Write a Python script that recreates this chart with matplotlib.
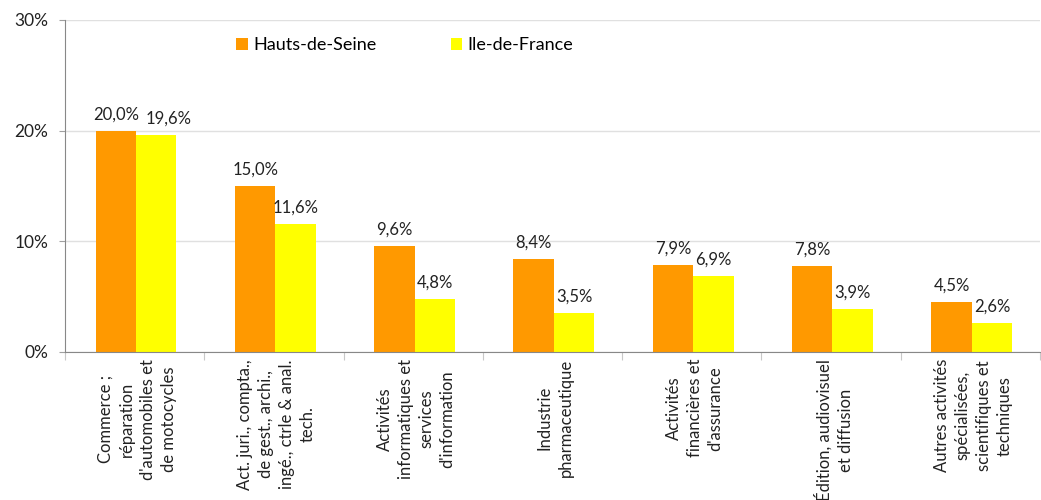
import matplotlib
matplotlib.use("Agg")
import matplotlib.pyplot as plt
import numpy as np
from matplotlib.ticker import FixedLocator, NullFormatter, FuncFormatter

plt.rcParams['font.family'] = ['Lato', 'DejaVu Sans']

categories = [
    "Commerce ;\nréparation\nd'automobiles et\nde motocycles",
    "Act. juri., compta.,\nde gest., archi.,\ningé., ctrle & anal.\ntech.",
    "Activités\ninformatiques et\nservices\nd'information",
    "Industrie\npharmaceutique",
    "Activités\nfinancières et\nd'assurance",
    "Édition, audiovisuel\net diffusion",
    "Autres activités\nspécialisées,\nscientifiques et\ntechniques",
]
hauts_de_seine = [20.0, 15.0, 9.6, 8.4, 7.9, 7.8, 4.5]
ile_de_france = [19.6, 11.6, 4.8, 3.5, 6.9, 3.9, 2.6]
series_names = ["Hauts-de-Seine", "Ile-de-France"]
colors = ["#FF9900", "#FFFF00"]

fig = plt.figure(figsize=(10.41, 5.0), dpi=100)
ax = fig.add_axes([65/1041, 1-352/500, (1040-65)/1041, (352-20)/500])

x = np.arange(len(categories))
w = 0.29
b1 = ax.bar(x - w/2 + 0.01, hauts_de_seine, w, color=colors[0], label=series_names[0])
b2 = ax.bar(x + w/2 + 0.01, ile_de_france, w, color=colors[1], label=series_names[1])

for i, (r, v) in enumerate(zip(b1, hauts_de_seine)):
    ax.annotate(f"{v:.1f}%".replace('.', ','), (r.get_x() + r.get_width()/2, v),
                xytext=(0, 6), textcoords='offset points', ha='center', va='bottom',
                fontsize=12, color='#222222')
for i, (r, v) in enumerate(zip(b2, ile_de_france)):
    # nudge right when it would collide with the neighbouring label
    dx = 9 if abs(hauts_de_seine[i] - v) < 0.6 else 0
    ax.annotate(f"{v:.1f}%".replace('.', ','), (r.get_x() + r.get_width()/2, v),
                xytext=(dx, 6), textcoords='offset points', ha='center', va='bottom',
                fontsize=12, color='#222222')

ax.set_xlim(-0.5, len(categories) - 0.5)
ax.set_ylim(0, 30)
ax.set_yticks([0, 10, 20, 30])
ax.yaxis.set_major_formatter(FuncFormatter(lambda v, p: f"{int(v)}%"))
ax.tick_params(axis='y', labelsize=12.5, length=4, color='#a0a0a0', labelcolor='#222222', pad=8)

ax.xaxis.set_major_locator(FixedLocator(np.arange(-0.5, len(categories), 1.0)))
ax.xaxis.set_major_formatter(NullFormatter())
ax.xaxis.set_minor_locator(FixedLocator(x))
ax.set_xticks(x + 0.02, categories, minor=True)
ax.tick_params(axis='x', which='major', length=6, color='#c8c8c8')
ax.tick_params(axis='x', which='minor', length=0, pad=5, labelsize=12, labelcolor='#222222')
for lab in ax.get_xticklabels(minor=True):
    lab.set_rotation(90)
    lab.set_ha('center')
    lab.set_va('top')
    lab.set_multialignment('center')
    lab.set_linespacing(1.38)

ax.grid(axis='y', color='#e0e0e0', linewidth=1)
ax.set_axisbelow(True)
for s in ['top', 'right']:
    ax.spines[s].set_visible(False)
ax.spines['left'].set_color('#888888')
ax.spines['bottom'].set_color('#888888')

leg = ax.legend(loc='upper left', bbox_to_anchor=(0.159, 0.997), ncol=2, frameon=False,
                fontsize=13, handlelength=0.65, handleheight=0.65, handletextpad=0.3,
                columnspacing=4.1)

fig.savefig("out.png", dpi=100)
